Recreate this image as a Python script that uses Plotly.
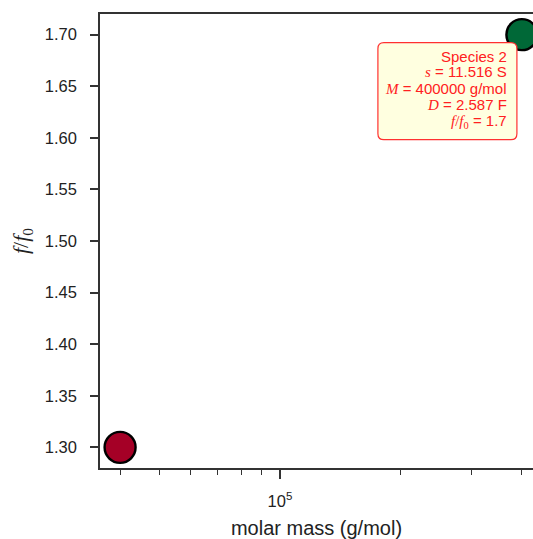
import numpy as np
import plotly.graph_objects as go

# Data
species = ["Species 1", "Species 2"]
molar_mass = [40000, 400000]
frictional_ratio = [1.3, 1.7]
marker_colors = ["#a50026", "#006837"]
sed_coeff_2 = 11.516
diff_coeff_2 = 2.587

y_ticks = [1.30, 1.35, 1.40, 1.45, 1.50, 1.55, 1.60, 1.65, 1.70]
x_major_ticks = [1e5]
x_major_labels = ["10<sup>5</sup>"]
x_minor_ticks = [4e4, 5e4, 6e4, 7e4, 8e4, 9e4, 2e5, 3e5, 4e5]

W, H = 533, 539
ml, mt, mb = 100, 14, 71

# matplotlib-like 5% margins; plot is cropped on the right
lx = np.log10(molar_mass)
span = lx.max() - lx.min()
full_lo = lx.min() - 0.05 * span
full_hi = lx.max() + 0.05 * span
full_px = 442.0
vis_px = W - ml
x_range = [full_lo, full_lo + (full_hi - full_lo) * vis_px / full_px]
yspan = max(frictional_ratio) - min(frictional_ratio)
y_range = [min(frictional_ratio) - 0.05 * yspan, max(frictional_ratio) + 0.05 * yspan]

fig = go.Figure()
for i in range(len(species)):
    fig.add_trace(go.Scatter(
        x=[molar_mass[i]], y=[frictional_ratio[i]], mode="markers",
        marker=dict(size=31, color=marker_colors[i], line=dict(color="black", width=2.4)),
        cliponaxis=False, showlegend=False, name=species[i], hoverinfo="skip"))

# anchor of the info box (Species 2 point) in paper fractions
ax_frac = (np.log10(molar_mass[1]) - x_range[0]) / (x_range[1] - x_range[0])
ay_frac = (frictional_ratio[1] - y_range[0]) / (y_range[1] - y_range[0])

# rounded info box, pixel offsets from the Species 2 point (y up)
bx0, bx1, by0, by1, r = -144, -5, -105, -8, 6
path = (f"M {bx0+r},{by1} L {bx1-r},{by1} Q {bx1},{by1} {bx1},{by1-r} "
        f"L {bx1},{by0+r} Q {bx1},{by0} {bx1-r},{by0} "
        f"L {bx0+r},{by0} Q {bx0},{by0} {bx0},{by0+r} "
        f"L {bx0},{by1-r} Q {bx0},{by1} {bx0+r},{by1} Z")
fig.add_shape(type="path", path=path, xref="paper", yref="paper",
              xsizemode="pixel", ysizemode="pixel",
              xanchor=ax_frac, yanchor=ay_frac,
              fillcolor="#ffffe0", line=dict(color="#ff3030", width=1.2), layer="above")

serif = "font-family:'Liberation Serif', 'DejaVu Serif', serif"
lines = [
    "Species 2",
    f"<span style=\"{serif}\"><i>s</i></span> = {sed_coeff_2} S",
    f"<span style=\"{serif}\"><i>M</i></span> = {molar_mass[1]} g/mol",
    f"<span style=\"{serif}\"><i>D</i></span> = {diff_coeff_2} F",
    f"<span style=\"{serif}\"><i>f</i>/<i>f</i><sub>0</sub></span> = {frictional_ratio[1]}",
]
baseline_off = [27, 42.5, 59, 75.5, 92]
fs = 15
for t, b in zip(lines, baseline_off):
    fig.add_annotation(
        x=ax_frac, y=ay_frac, xref="paper", yref="paper",
        text=t, showarrow=False, xanchor="right", yanchor="middle", align="right",
        xshift=-14, yshift=-(b - 0.35 * fs),
        font=dict(family="Liberation Sans, Arial, sans-serif", size=fs, color="#ff2020"),
        borderpad=0)

axis_col = "#333333"
fig.update_layout(
    width=W, height=H,
    margin=dict(l=ml, r=0, t=mt, b=mb, autoexpand=False),
    paper_bgcolor="white", plot_bgcolor="white",
    font=dict(family="Liberation Sans, Arial, sans-serif", size=16, color="#222222"),
    xaxis=dict(type="log", range=x_range, showgrid=False, zeroline=False, automargin=False,
               showline=True, linecolor=axis_col, linewidth=1.6, mirror=True,
               ticks="outside", ticklen=9, tickwidth=1.6, tickcolor=axis_col,
               tickvals=x_major_ticks, ticktext=x_major_labels, ticklabelstandoff=8,
               minor=dict(tickvals=x_minor_ticks, ticks="outside", ticklen=5,
                          tickwidth=1.2, tickcolor=axis_col, showgrid=False),
               title=dict(text="molar mass (g/mol)", font=dict(size=20), standoff=14),
               tickfont=dict(size=16.5)),
    yaxis=dict(range=y_range, showgrid=False, zeroline=False, automargin=False,
               showline=True, linecolor=axis_col, linewidth=1.6, mirror=False,
               ticks="outside", ticklen=8, tickwidth=1.6, tickcolor=axis_col,
               tickvals=y_ticks, tickformat=".2f", ticklabelstandoff=10,
               title=dict(text="<i>f</i>/<i>f</i><sub>0</sub>",
                          font=dict(family="Liberation Serif, DejaVu Serif, serif", size=22),
                          standoff=10),
               tickfont=dict(size=16.5)),
)

fig.write_html("out.html", config={"displayModeBar": False},
               post_script="document.body.style.margin='0';document.body.style.overflow='hidden';")
